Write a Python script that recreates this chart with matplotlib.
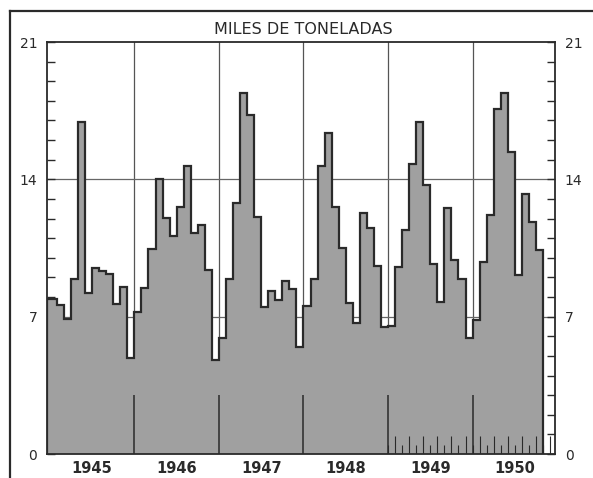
import numpy as np
import matplotlib
matplotlib.use("Agg")
import matplotlib.pyplot as plt
from matplotlib.lines import Line2D
from matplotlib.ticker import MultipleLocator

# Monthly values (miles de toneladas), Jan 1945 - Oct 1950
v1945 = [7.9, 7.6, 6.9, 8.9, 16.9, 8.2, 9.5, 9.35, 9.2, 7.65, 8.5, 4.9]
v1946 = [7.25, 8.45, 10.45, 14.0, 12.05, 11.1, 12.6, 14.7, 11.25, 11.65, 9.4, 4.8]
v1947 = [5.9, 8.9, 12.8, 18.4, 17.3, 12.1, 7.5, 8.3, 7.85, 8.8, 8.4, 5.45]
v1948 = [7.55, 8.9, 14.7, 16.35, 12.6, 10.5, 7.7, 6.7, 12.3, 11.5, 9.6, 6.45]
v1949 = [6.5, 9.55, 11.4, 14.8, 16.9, 13.7, 9.7, 7.75, 12.55, 9.9, 8.9, 5.9]
v1950 = [6.85, 9.8, 12.2, 17.6, 18.4, 15.4, 9.1, 13.25, 11.8, 10.4]
years = ["1945", "1946", "1947", "1948", "1949", "1950"]
y_labels = ["0", "7", "14", "21"]
title = "MILES DE TONELADAS"

values = np.array(v1945 + v1946 + v1947 + v1948 + v1949 + v1950)
n = len(values)

W, H = 593, 478
fig = plt.figure(figsize=(W / 100, H / 100), dpi=100)
fig.patch.set_facecolor("white")
ax = fig.add_axes([47 / W, (H - 454) / H, (555 - 47) / W, (454 - 42) / H])

x_left, x_right = -0.9, 71.2
edges = np.arange(n + 1) - 0.5
edges[0] = x_left

ink = "#2a2a2a"
# grid lines (behind the fill)
year_bounds = np.arange(1, len(years)) * 12 - 0.5
for xb in year_bounds:
    ax.axvline(xb, color="#555555", lw=0.9, zorder=1)
for yv in (7, 14):
    ax.axhline(yv, color="#666666", lw=0.9, zorder=1)

ax.stairs(values, edges, fill=True, color="#a0a0a0", zorder=2, baseline=0)
ax.stairs(values, edges, fill=False, color=ink, lw=1.6, zorder=3, baseline=0)

# short year marks at the bottom, over the fill
ax.vlines(year_bounds, 0, 3, color=ink, lw=1.1, zorder=4)
# small month marks along bottom from 1949
mk = np.arange(48, 72) - 0.5
hts = np.where(np.arange(len(mk)) % 2 == 0, 0.45, 0.9)
ax.vlines(mk[mk < x_right], 0, hts[mk < x_right], color=ink, lw=0.8, zorder=4)

ax.set_xlim(x_left, x_right)
ax.set_ylim(0, 21)

ax.set_yticks([int(s) for s in y_labels])
ax.set_yticklabels(y_labels)
ax.yaxis.set_minor_locator(MultipleLocator(1))
ax.tick_params(axis="y", which="both", direction="in", left=True, right=True,
               labelleft=True, labelright=True, length=6, width=1.0, color=ink,
               labelsize=10, labelcolor=ink, pad=7)
ax.set_xticks(np.arange(len(years)) * 12 + 5.5)
ax.set_xticklabels(years)
ax.tick_params(axis="x", which="both", length=0, labelsize=10.5, labelcolor=ink, pad=5)
for lab in ax.get_xticklabels():
    lab.set_fontweight("bold")

for s in ax.spines.values():
    s.set_color(ink)
    s.set_linewidth(1.3)

fig.text(0.512, (H - 29) / H, title, ha="center", va="center", fontsize=11.5,
         color=ink)

# page border lines
fig.add_artist(Line2D([10 / W, 1.0], [1 - 11 / H, 1 - 11 / H], color=ink, lw=1.6))
fig.add_artist(Line2D([10 / W, 10 / W], [1 - 11 / H, 0.0], color=ink, lw=1.6))

fig.savefig("out.png", dpi=100)
